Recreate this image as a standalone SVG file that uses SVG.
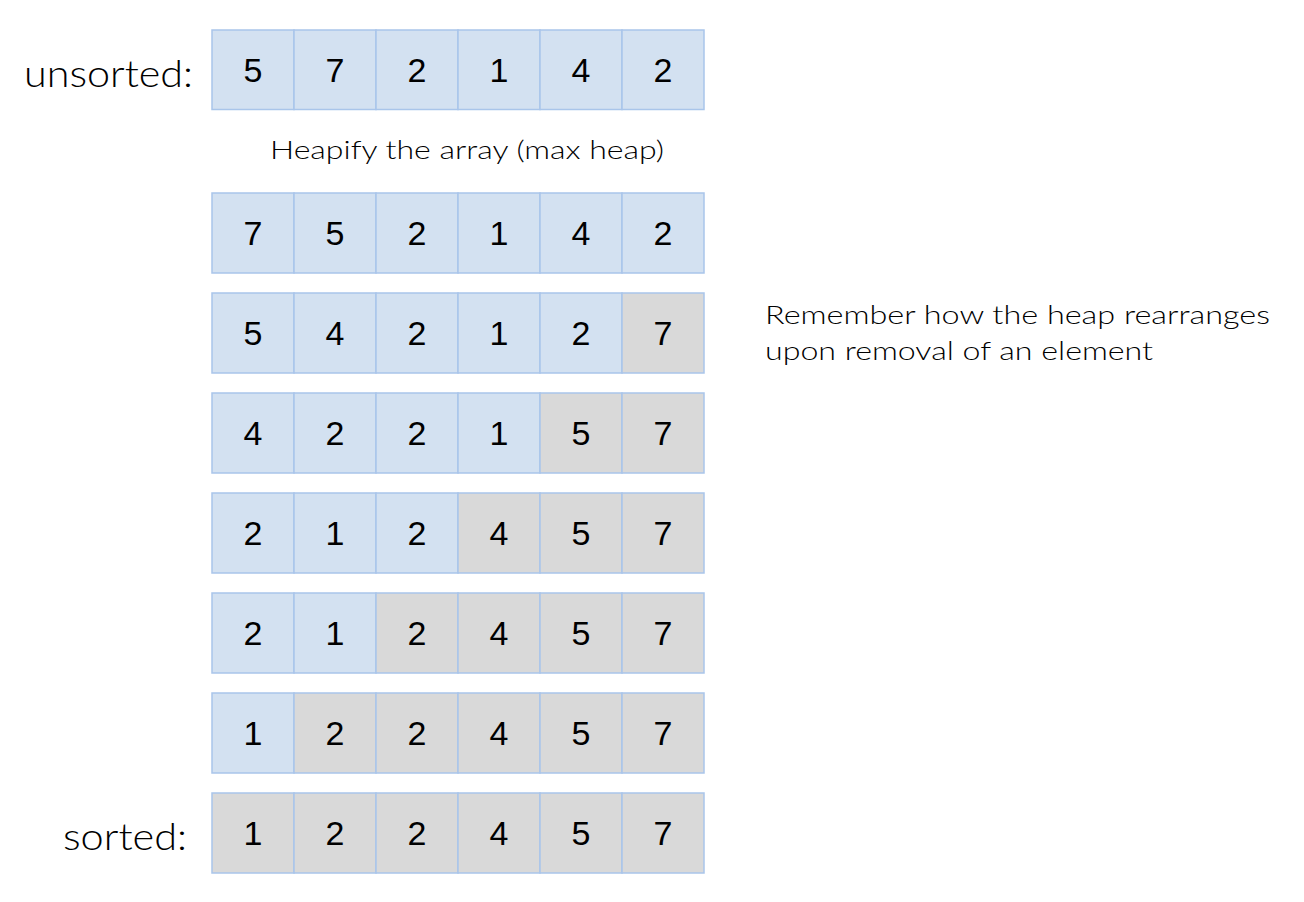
<svg xmlns="http://www.w3.org/2000/svg" width="1304" height="902" viewBox="0 0 1304 902">
<style>
.b{fill:#d3e1f1;stroke:#a9c5ea;stroke-width:1.5}
.g{fill:#d9d9d9;stroke:#a9c5ea;stroke-width:1.5}
.n{font-family:"Liberation Sans",Arial,sans-serif;font-size:34px;fill:#000;text-anchor:middle}
.l{font-family:Lato,"Noto Sans",sans-serif;font-weight:300;fill:#000}
</style>
<rect width="1304" height="902" fill="#fff"/>
<text class="l" x="24" y="87" font-size="37" textLength="169" lengthAdjust="spacingAndGlyphs">unsorted:</text>
<text class="l" x="270" y="159" font-size="25" textLength="394" lengthAdjust="spacingAndGlyphs">Heapify the array (max heap)</text>
<text class="l" x="765" y="324" font-size="26" textLength="505" lengthAdjust="spacingAndGlyphs">Remember how the heap rearranges</text>
<text class="l" x="765" y="360" font-size="26" textLength="388" lengthAdjust="spacingAndGlyphs">upon removal of an element</text>
<text class="l" x="63" y="850" font-size="37" textLength="124" lengthAdjust="spacingAndGlyphs">sorted:</text>
<g id="row1">
<rect class="b" x="212" y="30" width="82" height="79.5"/><rect class="b" x="294" y="30" width="82" height="79.5"/><rect class="b" x="376" y="30" width="82" height="79.5"/><rect class="b" x="458" y="30" width="82" height="79.5"/><rect class="b" x="540" y="30" width="82" height="79.5"/><rect class="b" x="622" y="30" width="82" height="79.5"/>
<text class="n" x="253" y="82">5</text><text class="n" x="335" y="82">7</text><text class="n" x="417" y="82">2</text><text class="n" x="499" y="82">1</text><text class="n" x="581" y="82">4</text><text class="n" x="663" y="82">2</text>
</g>
<g id="row2" transform="translate(0,163)">
<rect class="b" x="212" y="30" width="82" height="80"/><rect class="b" x="294" y="30" width="82" height="80"/><rect class="b" x="376" y="30" width="82" height="80"/><rect class="b" x="458" y="30" width="82" height="80"/><rect class="b" x="540" y="30" width="82" height="80"/><rect class="b" x="622" y="30" width="82" height="80"/>
<text class="n" x="253" y="82">7</text><text class="n" x="335" y="82">5</text><text class="n" x="417" y="82">2</text><text class="n" x="499" y="82">1</text><text class="n" x="581" y="82">4</text><text class="n" x="663" y="82">2</text>
</g>
<g id="row3" transform="translate(0,263)">
<rect class="b" x="212" y="30" width="82" height="80"/><rect class="b" x="294" y="30" width="82" height="80"/><rect class="b" x="376" y="30" width="82" height="80"/><rect class="b" x="458" y="30" width="82" height="80"/><rect class="b" x="540" y="30" width="82" height="80"/><rect class="g" x="622" y="30" width="82" height="80"/>
<text class="n" x="253" y="82">5</text><text class="n" x="335" y="82">4</text><text class="n" x="417" y="82">2</text><text class="n" x="499" y="82">1</text><text class="n" x="581" y="82">2</text><text class="n" x="663" y="82">7</text>
</g>
<g id="row4" transform="translate(0,363)">
<rect class="b" x="212" y="30" width="82" height="80"/><rect class="b" x="294" y="30" width="82" height="80"/><rect class="b" x="376" y="30" width="82" height="80"/><rect class="b" x="458" y="30" width="82" height="80"/><rect class="g" x="540" y="30" width="82" height="80"/><rect class="g" x="622" y="30" width="82" height="80"/>
<text class="n" x="253" y="82">4</text><text class="n" x="335" y="82">2</text><text class="n" x="417" y="82">2</text><text class="n" x="499" y="82">1</text><text class="n" x="581" y="82">5</text><text class="n" x="663" y="82">7</text>
</g>
<g id="row5" transform="translate(0,463)">
<rect class="b" x="212" y="30" width="82" height="80"/><rect class="b" x="294" y="30" width="82" height="80"/><rect class="b" x="376" y="30" width="82" height="80"/><rect class="g" x="458" y="30" width="82" height="80"/><rect class="g" x="540" y="30" width="82" height="80"/><rect class="g" x="622" y="30" width="82" height="80"/>
<text class="n" x="253" y="82">2</text><text class="n" x="335" y="82">1</text><text class="n" x="417" y="82">2</text><text class="n" x="499" y="82">4</text><text class="n" x="581" y="82">5</text><text class="n" x="663" y="82">7</text>
</g>
<g id="row6" transform="translate(0,563)">
<rect class="b" x="212" y="30" width="82" height="80"/><rect class="b" x="294" y="30" width="82" height="80"/><rect class="g" x="376" y="30" width="82" height="80"/><rect class="g" x="458" y="30" width="82" height="80"/><rect class="g" x="540" y="30" width="82" height="80"/><rect class="g" x="622" y="30" width="82" height="80"/>
<text class="n" x="253" y="82">2</text><text class="n" x="335" y="82">1</text><text class="n" x="417" y="82">2</text><text class="n" x="499" y="82">4</text><text class="n" x="581" y="82">5</text><text class="n" x="663" y="82">7</text>
</g>
<g id="row7" transform="translate(0,663)">
<rect class="b" x="212" y="30" width="82" height="80"/><rect class="g" x="294" y="30" width="82" height="80"/><rect class="g" x="376" y="30" width="82" height="80"/><rect class="g" x="458" y="30" width="82" height="80"/><rect class="g" x="540" y="30" width="82" height="80"/><rect class="g" x="622" y="30" width="82" height="80"/>
<text class="n" x="253" y="82">1</text><text class="n" x="335" y="82">2</text><text class="n" x="417" y="82">2</text><text class="n" x="499" y="82">4</text><text class="n" x="581" y="82">5</text><text class="n" x="663" y="82">7</text>
</g>
<g id="row8" transform="translate(0,763)">
<rect class="g" x="212" y="30" width="82" height="80"/><rect class="g" x="294" y="30" width="82" height="80"/><rect class="g" x="376" y="30" width="82" height="80"/><rect class="g" x="458" y="30" width="82" height="80"/><rect class="g" x="540" y="30" width="82" height="80"/><rect class="g" x="622" y="30" width="82" height="80"/>
<text class="n" x="253" y="82">1</text><text class="n" x="335" y="82">2</text><text class="n" x="417" y="82">2</text><text class="n" x="499" y="82">4</text><text class="n" x="581" y="82">5</text><text class="n" x="663" y="82">7</text>
</g>
<g id="connectors"/>
</svg>
